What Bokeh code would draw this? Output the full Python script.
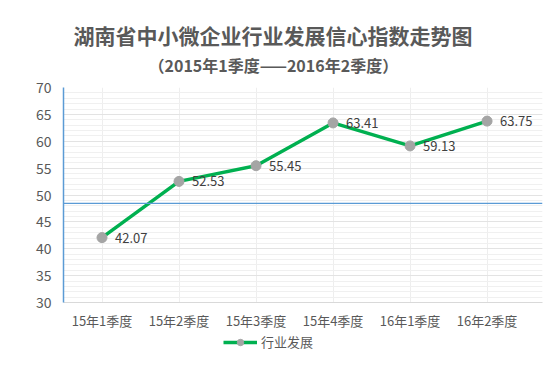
from bokeh.plotting import figure
from bokeh.layouts import column
from bokeh.models import (ColumnDataSource, LabelSet, Legend, LegendItem, Span,
                          SingleIntervalTicker, FixedTicker, Title, Range1d)
from bokeh.core.properties import value
from bokeh.embed import file_html
from bokeh.resources import INLINE

categories = ["15年1季度", "15年2季度", "15年3季度", "15年4季度", "16年1季度", "16年2季度"]
values = [42.07, 52.53, 55.45, 63.41, 59.13, 63.75]
labels = ["42.07", "52.53", "55.45", "63.41", "59.13", "63.75"]
reference_level = 48.45
series_name = "行业发展"
title_main = "湖南省中小微企业行业发展信心指数走势图"
title_sub = "（2015年1季度——2016年2季度）"

FONT = "Noto Sans CJK SC"
TXT = "#595959"
GREEN = "#00b050"
GRAY = "#a5a5a5"

xs = list(range(len(categories)))
src = ColumnDataSource(dict(x=xs, y=values, t=labels))

p = figure(frame_width=479, frame_height=215, x_range=Range1d(-0.5, len(categories) - 0.28),
           y_range=Range1d(30, 70),
           output_backend="svg", toolbar_location=None, title=None,
           min_border_left=63, min_border_right=6, min_border_bottom=30,
           min_border_top=87)
p.outline_line_color = None
p.background_fill_color = "white"

spacer = Title(text=" ", text_font=FONT, text_font_size="2px", standoff=6)
sub = Title(text=title_sub, align="left", offset=85, vertical_align="bottom",
            text_font=FONT, text_font_size="16px",
            text_font_style="bold", text_color=TXT, standoff=0)
main = Title(text=title_main, align="left", offset=10, vertical_align="middle",
             text_font=FONT, text_font_size="21px",
             text_font_style="bold", text_color=TXT, standoff=0)
p.add_layout(spacer, "above")
p.add_layout(sub, "above")
p.add_layout(main, "above")

# axes
p.yaxis.ticker = SingleIntervalTicker(interval=5, num_minor_ticks=5)
p.yaxis.axis_line_color = "#5b9bd5"
p.yaxis.axis_line_width = 1.5
p.yaxis.major_tick_line_color = None
p.yaxis.minor_tick_line_color = None
p.yaxis.major_label_text_font = FONT
p.yaxis.major_label_text_font_size = "14px"
p.yaxis.major_label_text_color = TXT
p.yaxis.major_label_standoff = 6

p.xaxis.ticker = FixedTicker(ticks=xs)
p.xaxis.major_label_overrides = {i: c for i, c in zip(xs, categories)}
p.xaxis.axis_line_color = "#d9d9d9"
p.xaxis.major_tick_line_color = None
p.xaxis.minor_tick_line_color = None
p.xaxis.major_label_text_font = FONT
p.xaxis.major_label_text_font_size = "13px"
p.xaxis.major_label_text_color = TXT
p.xaxis.major_label_standoff = 2

p.ygrid.grid_line_color = "#e3e3e3"
p.ygrid.minor_grid_line_color = "#f0f0f0"
p.xgrid.grid_line_color = "#eeeeee"

p.add_layout(Span(location=reference_level, dimension="width",
                  line_color="#5b9bd5", line_width=1.2))

ln = p.line("x", "y", source=src, line_color=GREEN, line_width=3.5)
sc = p.scatter("x", "y", source=src, size=10, fill_color=GRAY, line_color=GRAY)

p.add_layout(LabelSet(x="x", y="y", text="t", source=src, x_offset=13,
                      text_baseline="middle", text_font=value(FONT),
                      text_font_size=value("13px"), text_color="#404040"))

# legend row (separate strip below the chart); the series sits outside this
# strip's ranges, so only its legend entry is visible
lg = figure(width=548, height=34, output_backend="svg", toolbar_location=None,
            x_range=Range1d(0, 1), y_range=Range1d(0, 1),
            min_border_left=0, min_border_right=0, min_border_top=0, min_border_bottom=0)
lg.axis.visible = False
lg.grid.visible = False
lg.outline_line_color = None
ln2 = lg.line("x", "y", source=src, line_color=GREEN, line_width=3.5)
sc2 = lg.scatter("x", "y", source=src, size=10, fill_color=GRAY, line_color=GRAY)
legend = Legend(items=[LegendItem(label=series_name, renderers=[ln2, sc2])],
                orientation="horizontal", location=(160, 15),
                label_text_font=FONT, label_text_font_size="13px",
                label_text_color=TXT, border_line_color=None,
                background_fill_alpha=0, label_height=16, glyph_height=16,
                glyph_width=34, padding=0, margin=0, spacing=0,
                label_standoff=4)
lg.add_layout(legend)

open("out.html", "w").write(file_html(column(p, lg, spacing=0), INLINE))
